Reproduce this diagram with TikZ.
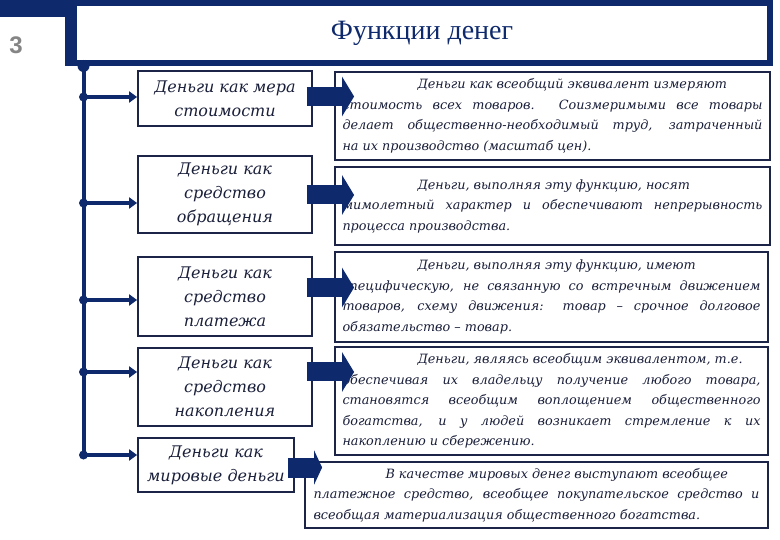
\documentclass[tikz,border=0pt]{standalone}
\usepackage{fontspec}
\setmainfont{Liberation Serif}
\newfontfamily\dvs{DejaVu Serif}
\newfontfamily\lsans{Liberation Sans}
\usetikzlibrary{arrows.meta}
\definecolor{navy}{HTML}{0F2A6C}
\definecolor{boxc}{HTML}{1C2547}
\definecolor{txtc}{HTML}{1A1F3A}
\definecolor{numc}{HTML}{858585}
\newcommand{\ltxt}{\dvs\itshape\fontsize{16}{24}\selectfont}
\newcommand{\rtxt}{\dvs\itshape\fontsize{12.8}{20.5}\selectfont}
\begin{document}
\begin{tikzpicture}[x=1pt,y=-1pt,
  lbox/.style={draw=boxc, line width=1.8pt, fill=white, align=center, text=txtc, font=\ltxt, inner sep=2pt},
  rbox/.style={draw=boxc, line width=1.8pt, fill=white, text=txtc, inner sep=0pt},
  branch/.style={draw=navy, line width=3.5pt, -{Triangle[length=8pt,width=11pt]}},
  bigarrow/.style={draw=navy, line width=19pt, -{Triangle[length=12pt,width=39pt]}},
  dot/.style={fill=navy}]
\useasboundingbox (0,0) rectangle (780,540);
\fill[white] (0,0) rectangle (780,540);
% header
\fill[navy] (0,0) rectangle (773,6);
\fill[navy] (0,0) rectangle (66,17);
\fill[navy] (65,0) rectangle (773,66);
\fill[white] (77,6) rectangle (767,60);
\node[font=\lsans\bfseries\fontsize{24}{24}\selectfont, text=numc] (num) at (16,45) {3};
\node[font=\fontsize{28}{28}\selectfont, text=navy] (title) at (422,33) {Функции денег};
% left boxes
\node[lbox, minimum width=174pt, minimum height=55pt] (l1) at (225,98.5) {Деньги как мера\\стоимости};
\node[lbox, minimum width=174pt, minimum height=77pt] (l2) at (225,194.5) {Деньги как\\средство\\обращения};
\node[lbox, minimum width=174pt, minimum height=79pt] (l3) at (225,296.5) {Деньги как\\средство\\платежа};
\node[lbox, minimum width=174pt, minimum height=78pt] (l4) at (225,387) {Деньги как\\средство\\накопления};
\node[lbox, minimum width=156pt, minimum height=54pt] (l5) at (216,465) {Деньги как\\мировые деньги};
% right boxes
\node[rbox, minimum width=435pt, minimum height=88pt] (r1) at (552.5,116) {\parbox{420pt}{\rtxt\hspace*{75pt}Деньги как всеобщий эквивалент измеряют\par стоимость всех товаров. Соизмеримыми все товары\linebreak делает общественно-необходимый труд, затраченный\linebreak на их производство (масштаб цен).}};
\node[rbox, minimum width=435pt, minimum height=78pt] (r2) at (552.5,206) {\parbox{420pt}{\rtxt\hspace*{75pt}Деньги, выполняя эту функцию, носят\par мимолетный характер и обеспечивают непрерывность\linebreak процесса производства.}};
\node[rbox, minimum width=433pt, minimum height=90pt] (r3) at (551.5,297) {\parbox{418pt}{\rtxt\hspace*{75pt}Деньги, выполняя эту функцию, имеют\par специфическую, не связанную со встречным движением\linebreak товаров, схему движения: товар – срочное долговое\linebreak обязательство – товар.}};
\node[rbox, minimum width=433pt, minimum height=108pt] (r4) at (551.5,401) {\parbox{418pt}{\rtxt\hspace*{75pt}Деньги, являясь всеобщим эквивалентом, т.е.\par обеспечивая их владельцу получение любого товара,\linebreak становятся всеобщим воплощением общественного\linebreak богатства, и у людей возникает стремление к их\linebreak накоплению и сбережению.}};
\node[rbox, minimum width=463pt, minimum height=66pt] (r5) at (536.5,495) {\parbox{446pt}{\rtxt\hspace*{72pt}В качестве мировых денег выступают всеобщее\par платежное средство, всеобщее покупательское средство и\linebreak всеобщая материализация общественного богатства.}};
% trunk
\coordinate (top) at (83.5,66);
\coordinate (d1) at (83.5,97);
\coordinate (d2) at (83.5,203);
\coordinate (d3) at (83.5,300);
\coordinate (d4) at (83.5,372);
\coordinate (d5) at (83.5,455);
\draw[navy, line width=4pt] (83.5,60) -- (d5);
\fill[dot] (top) circle (6pt);
\foreach \d in {d1,d2,d3,d4,d5} \fill[dot] (\d) circle (4.5pt);
\draw[branch] (d1) -- (d1 -| l1.west);
\draw[branch] (d2) -- (d2 -| l2.west);
\draw[branch] (d3) -- (d3 -| l3.west);
\draw[branch] (d4) -- (d4 -| l4.west);
\draw[branch] (d5) -- (d5 -| l5.west);
% block arrows
\draw[bigarrow] ([xshift=-6pt,yshift=2pt]l1.east) -- ([xshift=20pt,yshift=2pt]l1.east -| r1.west);
\draw[bigarrow] ([xshift=-6pt,yshift=-0.5pt]l2.east) -- ([xshift=20pt,yshift=-0.5pt]l2.east -| r2.west);
\draw[bigarrow] ([xshift=-6pt,yshift=9pt]l3.east) -- ([xshift=20pt,yshift=9pt]l3.east -| r3.west);
\draw[bigarrow] ([xshift=-6pt,yshift=15pt]l4.east) -- ([xshift=20pt,yshift=15pt]l4.east -| r4.west);
\draw[navy, line width=20pt, -{Triangle[length=8pt,width=34pt]}] ([xshift=-7pt,yshift=-2.5pt]l5.east) -- ([xshift=18pt,yshift=-2.5pt]l5.east -| r5.west);
\end{tikzpicture}
\end{document}
